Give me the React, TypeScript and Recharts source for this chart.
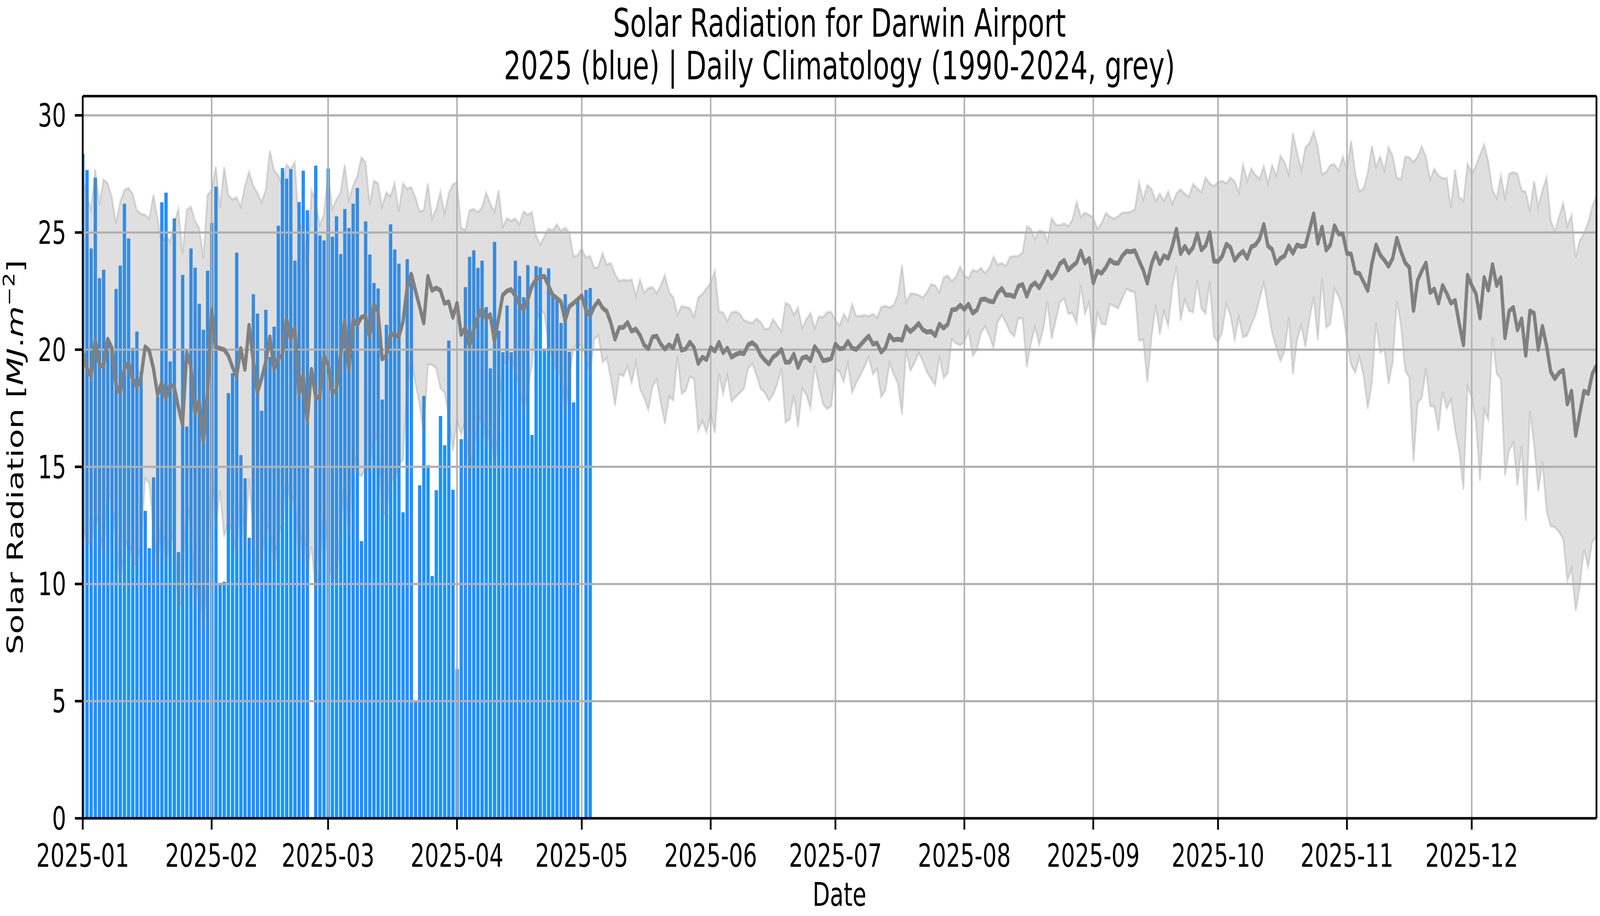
import React, { useEffect, useState } from 'react';
import { ComposedChart, Bar, Area, Line, XAxis, YAxis, CartesianGrid, ReferenceLine } from 'recharts';

// ---------------- data ----------------
const monthTicks = [0, 31, 59, 90, 120, 151, 181, 212, 243, 273, 304, 334];
const monthLabels = ['2025-01', '2025-02', '2025-03', '2025-04', '2025-05', '2025-06', '2025-07', '2025-08', '2025-09', '2025-10', '2025-11', '2025-12'];
const yTicks = [0, 5, 10, 15, 20, 25, 30];

// 2025 daily solar radiation (day 0 = 2025-01-01)
const obs2025: (number | null)[] = [
  28.35, 27.67, 24.32, 27.34, 23.05, 23.41, 20.3, 19.95, 22.59, 23.59,
  26.23, 24.74, 20.07, 20.77, 19.06, 13.12, 11.53, 14.55, 18.0, 26.29,
  26.7, 19.5, 25.6, 11.36, 23.19, 16.72, 24.32, 23.5, 21.96, 20.85,
  23.37, 25.41, 26.96, 10.05, 10.1, 18.15, 19.0, 24.14, 15.5, 14.51,
  11.97, 22.37, 21.54, 17.39, 21.7, 19.69, 20.98, 25.29, 27.75, 27.3,
  27.7, 23.8, 26.3, 27.64, 25.95, null, 27.85, 24.88, 24.66, 27.73,
  24.82, 25.69, 24.08, 26.0, 25.19, 26.23, 26.9, 11.83, 25.47, 24.06,
  22.85, 22.61, 17.87, 21.06, 25.35, 24.28, 23.67, 13.06, 23.86, 23.0,
  4.96, 14.21, 18.03, 15.07, 10.34, 14.0, 17.17, 15.92, 20.39, 14.02,
  6.37, 16.18, 22.67, 23.96, 24.24, 23.49, 23.8, 21.82, 19.2, 24.6,
  20.81, 19.89, 21.88, 19.89, 23.8, 23.15, 22.24, 23.61, 16.36, 23.57,
  23.51, 20.05, 23.47, 22.3, 22.24, 21.14, 22.37, 19.91, 17.75, 22.1,
  null, 22.55, 22.63,
];

// Daily climatology mean (1990-2024)
const climMean = [
  19.95, 19.2, 18.86, 20.4, 19.37, 19.28, 20.45, 20.07, 18.5, 18.15,
  19.18, 19.45, 18.78, 18.41, 18.8, 20.12, 19.96, 19.2, 18.08, 18.6,
  17.92, 18.5, 18.4, 17.55, 16.8, 19.88, 19.3, 17.28, 17.84, 16.08,
  18.15, 21.7, 20.12, 20.05, 20.0, 19.75, 19.26, 18.86, 20.05, 19.16,
  21.04, 19.56, 18.17, 18.76, 19.46, 20.55, 19.16, 19.65, 19.75, 21.34,
  20.45, 20.94, 18.07, 18.96, 16.97, 19.16, 17.97, 17.97, 19.75, 19.36,
  18.17, 18.27, 19.75, 21.24, 19.16, 21.3, 21.04, 21.38, 21.44, 20.55,
  21.94, 21.64, 19.6, 19.75, 20.65, 20.65, 20.55, 21.18, 22.63, 23.23,
  22.53, 21.84, 21.14, 23.13, 22.53, 22.63, 22.53, 21.98, 22.04, 21.38,
  21.98, 20.65, 20.94, 20.15, 20.85, 21.38, 21.74, 21.32, 21.5, 20.35,
  21.34, 22.33, 22.5, 22.57, 22.3, 21.94, 21.7, 22.14, 22.7, 23.0,
  23.1, 23.13, 22.73, 22.33, 22.2, 22.04, 21.24, 21.84, 21.98, 22.14,
  22.3, 21.7, 21.44, 21.84, 22.08, 21.78, 21.64, 21.14, 20.45, 20.94,
  20.95, 21.16, 20.79, 20.88, 20.62, 20.2, 20.04, 20.54, 20.58, 20.24,
  20.03, 20.21, 20.07, 20.6, 19.98, 20.03, 20.32, 20.09, 19.41, 19.68,
  19.58, 20.09, 19.94, 20.31, 19.87, 20.07, 19.68, 19.79, 19.86, 19.83,
  20.2, 20.3, 20.15, 19.77, 19.56, 19.39, 19.68, 19.81, 20.01, 19.46,
  19.47, 19.81, 19.24, 19.64, 19.7, 19.53, 20.13, 19.9, 19.53, 19.56,
  19.62, 20.24, 20.04, 20.06, 20.35, 20.07, 20.01, 20.2, 20.4, 20.58,
  20.24, 20.28, 19.9, 20.07, 20.62, 20.41, 20.45, 20.41, 20.99, 20.77,
  20.92, 21.12, 20.85, 20.75, 20.78, 20.6, 21.09, 20.92, 21.08, 21.7,
  21.72, 21.9, 21.72, 21.94, 21.56, 21.69, 22.14, 22.16, 22.07, 22.04,
  22.42, 22.61, 22.33, 22.33, 22.26, 22.71, 22.78, 22.28, 22.71, 22.85,
  22.64, 22.95, 23.33, 23.05, 23.29, 23.67, 23.81, 23.4, 23.57, 23.72,
  24.21, 23.7, 23.89, 22.85, 23.35, 23.26, 23.5, 23.83, 23.7, 23.69,
  24.01, 24.2, 24.18, 24.22, 23.8, 23.4, 22.84, 23.65, 24.12, 23.67,
  24.01, 23.9, 24.41, 25.14, 24.1, 24.41, 24.13, 24.36, 24.95, 24.26,
  24.44, 25.0, 23.78, 23.76, 23.99, 24.5, 24.36, 23.81, 24.04, 24.2,
  23.9, 24.39, 24.47, 24.73, 25.34, 24.43, 24.28, 23.68, 23.9, 24.0,
  24.43, 24.11, 24.47, 24.4, 24.43, 25.11, 25.8, 24.54, 25.23, 24.25,
  24.47, 25.29, 24.94, 24.94, 24.11, 24.08, 23.29, 23.25, 22.89, 22.53,
  23.68, 24.47, 24.04, 23.82, 23.56, 23.9, 24.76, 24.18, 23.71, 23.51,
  21.67, 22.96, 23.36, 23.7, 22.44, 22.59, 21.99, 22.74, 22.4, 21.99,
  22.1, 21.1, 20.21, 23.18, 22.74, 22.4, 21.35, 23.08, 22.54, 23.63,
  22.74, 23.08, 20.51, 21.65, 21.8, 20.85, 21.32, 19.76, 21.65, 21.55,
  20.01, 21.0, 20.16, 19.06, 18.76, 19.02, 19.12, 17.68, 18.23, 16.34,
  17.28, 18.23, 18.13, 18.97, 19.32,
];

// Climatology band, upper edge
const climHigh = [
  27.3, 26.6, 26.0, 27.7, 26.2, 27.26, 27.1, 26.5, 25.4, 26.3,
  26.8, 26.9, 26.66, 25.95, 25.8, 25.75, 25.6, 26.6, 25.6, 24.5,
  24.9, 24.6, 25.4, 26.0, 24.1, 25.95, 26.1, 25.5, 25.2, 23.9,
  26.6, 26.8, 27.8, 26.05, 27.8, 26.6, 26.4, 26.5, 26.1, 27.0,
  27.6, 27.0, 26.7, 26.3, 26.8, 28.5, 27.65, 27.45, 27.0, 27.9,
  27.7, 28.0, 25.2, 25.3, 23.3, 26.8, 26.4, 25.3, 25.8, 27.6,
  26.0, 26.4, 26.7, 27.9, 26.4, 27.0, 27.4, 28.2, 28.0, 26.2,
  27.2, 27.1, 26.1, 26.7, 26.55, 27.1, 25.9, 27.1, 26.86, 26.94,
  26.5, 25.9, 25.95, 27.1, 25.6, 26.0, 26.74, 25.8, 26.66, 27.06,
  27.14, 25.2, 25.1, 25.95, 26.0, 25.87, 26.06, 26.7, 26.23, 25.87,
  26.8, 25.25, 25.6, 25.5, 25.6, 25.35, 25.9, 25.75, 25.87, 24.88,
  24.48, 24.82, 25.17, 25.07, 25.35, 25.07, 25.2, 25.0, 23.98, 24.02,
  24.32, 23.92, 24.0, 23.49, 23.53, 24.12, 23.63, 23.69, 23.23, 22.93,
  22.98, 22.95, 22.99, 22.31, 22.99, 22.43, 22.62, 22.67, 22.41, 22.75,
  23.18, 22.45, 22.24, 21.49, 21.86, 21.81, 21.77, 21.41, 22.22, 22.37,
  22.62, 22.84, 23.36, 21.63, 21.58, 21.22, 21.58, 21.63, 21.52, 21.26,
  21.18, 21.13, 21.32, 21.18, 20.88, 20.89, 21.3, 21.03, 20.78, 22.0,
  21.9, 21.49, 21.8, 20.92, 21.29, 21.56, 20.92, 21.41, 21.39, 21.6,
  21.6, 21.26, 21.03, 21.52, 21.24, 21.94, 21.43, 21.44, 21.47, 21.43,
  21.52, 21.37, 21.81, 21.87, 21.8, 21.9, 22.34, 23.62, 22.0, 22.39,
  22.38, 22.33, 22.22, 22.45, 22.79, 22.73, 22.45, 23.08, 23.16, 22.92,
  23.12, 23.54, 23.16, 23.05, 23.4, 23.33, 23.48, 23.27, 23.48, 23.96,
  23.62, 23.69, 23.57, 23.96, 23.98, 24.0, 24.15, 25.27, 25.15, 24.72,
  25.08, 25.04, 24.63, 25.61, 25.33, 25.31, 25.39, 25.27, 25.56, 26.3,
  25.68, 25.84, 25.75, 25.65, 25.15, 25.39, 25.83, 25.67, 25.59, 25.69,
  25.85, 25.85, 25.88, 25.98, 27.13, 26.41, 27.02, 26.86, 26.35, 26.65,
  26.35, 26.76, 26.22, 26.67, 26.84, 26.65, 26.52, 27.07, 26.88, 26.73,
  27.34, 27.1, 26.97, 27.16, 27.2, 27.1, 27.34, 27.18, 26.7, 27.9,
  27.2, 27.73, 27.45, 27.29, 27.83, 27.09, 27.87, 27.41, 28.27, 28.01,
  27.48, 29.25, 28.44, 27.67, 28.63, 28.82, 29.3, 28.63, 27.48, 27.58,
  27.87, 27.91, 27.63, 28.24, 27.7, 28.92, 27.53, 26.76, 26.87, 27.55,
  28.7, 27.81, 28.24, 27.67, 28.63, 28.27, 27.34, 27.27, 28.24, 28.2,
  28.01, 28.24, 28.67, 28.22, 27.25, 27.72, 27.43, 27.31, 27.32, 26.06,
  27.69, 26.5, 26.35, 27.95, 27.5, 27.84, 28.32, 28.76, 28.02, 26.8,
  26.46, 27.43, 26.5, 27.5, 27.57, 27.5, 26.8, 26.73, 25.91, 27.2,
  26.09, 26.8, 27.35, 25.52, 25.04, 25.67, 26.26, 25.27, 25.76, 23.93,
  24.67, 24.97, 25.42, 26.12, 26.56,
];

// Climatology band, lower edge
const climLow = [
  12.6, 11.8, 11.65, 13.1, 12.4, 11.2, 13.9, 13.6, 11.8, 10.1,
  11.4, 12.0, 10.9, 10.8, 11.7, 14.5, 14.3, 12.4, 10.5, 12.9,
  10.7, 12.3, 11.7, 9.0, 9.3, 13.6, 12.3, 9.0, 10.4, 8.0,
  10.2, 15.0, 12.4, 14.0, 12.0, 12.7, 12.2, 11.2, 14.2, 11.2,
  14.5, 12.0, 9.6, 11.2, 12.1, 12.7, 10.6, 12.1, 12.6, 14.7,
  13.3, 13.9, 11.0, 12.5, 10.6, 11.6, 9.7, 10.4, 13.5, 10.8,
  10.3, 10.2, 12.3, 14.5, 11.9, 15.8, 14.7, 14.6, 14.9, 14.8,
  16.5, 16.1, 13.1, 12.9, 14.7, 14.3, 15.1, 15.3, 18.2, 19.65,
  18.56, 17.67, 16.38, 19.36, 19.36, 19.2, 18.36, 18.17, 17.27, 15.68,
  16.98, 16.38, 16.98, 14.5, 15.8, 16.7, 17.37, 15.88, 16.8, 14.9,
  16.58, 19.46, 19.4, 19.75, 19.06, 18.46, 17.37, 18.27, 19.36, 21.14,
  21.7, 21.54, 20.15, 19.65, 19.0, 19.0, 17.27, 18.76, 20.05, 20.25,
  20.15, 19.65, 18.96, 20.45, 20.6, 19.46, 19.65, 18.76, 17.6, 18.96,
  18.87, 19.28, 18.58, 19.45, 18.32, 17.94, 17.43, 18.41, 18.73, 17.73,
  16.83, 17.98, 17.85, 19.7, 18.13, 18.25, 18.85, 18.75, 16.55, 16.96,
  16.47, 17.3, 16.45, 18.96, 18.11, 18.9, 17.79, 17.98, 18.15, 18.34,
  19.19, 19.41, 18.92, 18.34, 18.17, 17.83, 18.07, 18.53, 19.19, 16.9,
  17.03, 18.07, 16.69, 18.34, 18.08, 17.49, 19.32, 18.45, 17.68, 17.47,
  17.6, 19.17, 19.06, 18.64, 19.41, 18.17, 18.58, 18.92, 19.28, 19.68,
  18.96, 19.17, 17.98, 18.25, 19.43, 18.96, 18.59, 17.23, 19.98, 19.11,
  19.43, 19.86, 19.51, 19.05, 18.76, 18.49, 19.73, 18.8, 19.0, 20.44,
  20.27, 20.19, 20.32, 20.8, 19.74, 19.98, 20.73, 20.99, 20.6, 20.08,
  21.18, 21.47, 21.15, 20.75, 20.57, 21.34, 21.34, 19.26, 20.27, 20.96,
  20.22, 20.89, 22.04, 20.46, 21.27, 22.04, 22.18, 21.53, 21.56, 21.13,
  22.74, 21.53, 22.01, 20.08, 21.56, 21.11, 21.07, 21.95, 21.86, 21.76,
  22.2, 22.59, 22.5, 22.45, 20.39, 20.43, 18.62, 20.5, 21.91, 20.64,
  21.65, 21.01, 22.61, 23.56, 21.24, 22.13, 21.67, 21.6, 22.96, 21.76,
  21.54, 22.9, 20.56, 20.32, 20.77, 21.95, 21.46, 20.43, 21.38, 20.53,
  20.61, 21.06, 21.49, 22.16, 22.86, 21.81, 20.7, 20.09, 19.52, 19.92,
  21.38, 18.95, 20.41, 21.03, 20.12, 21.31, 22.25, 20.41, 23.03, 20.95,
  21.1, 22.6, 22.27, 21.67, 20.38, 19.35, 19.02, 19.69, 18.87, 17.48,
  18.59, 21.13, 19.88, 20.02, 18.54, 19.45, 22.07, 21.03, 19.12, 18.8,
  15.22, 17.73, 17.94, 19.2, 17.6, 17.57, 16.53, 18.2, 17.49, 17.87,
  16.59, 15.67, 14.03, 18.42, 17.98, 16.93, 14.4, 17.43, 17.01, 20.51,
  18.97, 18.76, 14.63, 15.7, 16.04, 14.21, 15.89, 12.69, 17.38, 15.94,
  13.96, 15.22, 13.11, 12.47, 12.43, 12.22, 11.92, 10.13, 10.64, 8.85,
  9.9, 11.47, 10.73, 11.8, 12.02,
];

const data = climMean.map((m, i) => ({
  day: i,
  obs: i < obs2025.length ? obs2025[i] : null,
  mean: m,
  band: [climLow[i], climHigh[i]],
}));

// ---------------- layout ----------------
const FONT = "'DejaVu Sans', 'Liberation Sans', sans-serif";
const W = 5899;
const H = 2344;
const MARGIN = { top: 246, right: 13, bottom: 100, left: 0 };
const Y_AXIS_W = 305;
const X_AXIS_H = 150;
const Y_MAX = 30.82;
const DAY_MAX = 364;
const SPINE = 6.6;

const fmtMonth = (v: number) => {
  const i = monthTicks.indexOf(v);
  return i >= 0 ? monthLabels[i] : '';
};

function axes(show: boolean) {
  const tickStyle = { fill: '#000', fontSize: 82, fontFamily: FONT };
  const lineStyle = { stroke: '#000', strokeWidth: SPINE };
  return [
    <XAxis
      key="x"
      xAxisId={0}
      type="number"
      dataKey="day"
      domain={[0, DAY_MAX]}
      ticks={monthTicks}
      interval={0}
      height={X_AXIS_H}
      allowDataOverflow
      tickFormatter={fmtMonth}
      tick={show ? tickStyle : false}
      tickLine={show ? lineStyle : false}
      axisLine={show ? lineStyle : false}
      tickSize={29}
      tickMargin={37}
    />,
    <YAxis
      key="y"
      yAxisId={0}
      type="number"
      domain={[0, Y_MAX]}
      ticks={yTicks}
      interval={0}
      width={Y_AXIS_W}
      allowDataOverflow
      tick={show ? tickStyle : false}
      tickLine={show ? lineStyle : false}
      axisLine={show ? lineStyle : false}
      tickSize={29}
      tickMargin={32}
    />,
  ];
}

function Layer({ children }: { children: React.ReactNode }) {
  return (
    <div style={{ position: 'absolute', left: 0, top: 0, width: W, height: H }}>
      <ComposedChart width={W} height={H} data={data} margin={MARGIN}>
        {children}
      </ComposedChart>
    </div>
  );
}

function viewport() {
  if (typeof window === 'undefined') return { w: W, h: H };
  const w = window.innerWidth || W;
  const h = window.innerHeight || H;
  return { w, h };
}

const titleLine: React.CSSProperties = {
  position: 'absolute',
  left: 3095 - 2200,
  width: 4400,
  height: 116,
  textAlign: 'center',
  fontSize: 99,
  lineHeight: '116px',
  color: '#000',
  whiteSpace: 'nowrap',
};

export default function App() {
  const [vp, setVp] = useState(viewport());
  useEffect(() => {
    const onResize = () => setVp(viewport());
    window.addEventListener('resize', onResize);
    document.body.style.margin = '0';
    document.body.style.overflow = 'hidden';
    return () => window.removeEventListener('resize', onResize);
  }, []);
  const sx = vp.w / W;
  const sy = vp.h / H;

  return (
    <div
      style={{
        position: 'absolute',
        left: 0,
        top: 0,
        width: W,
        height: H,
        background: '#fff',
        overflow: 'hidden',
        fontFamily: FONT,
        transform: `scale(${sx}, ${sy})`,
        transformOrigin: '0 0',
      }}
    >
      {/* layer 1: 2025 bars */}
      <Layer>
        {axes(false)}
        <Bar dataKey="obs" fill="#1e90ff" barSize={12.27} isAnimationActive={false} />
      </Layer>
      {/* layer 2: climatology band */}
      <Layer>
        {axes(false)}
        <Area
          dataKey="band"
          type="linear"
          stroke="#808080"
          strokeOpacity={0.25}
          strokeWidth={6.6}
          fill="#808080"
          fillOpacity={0.25}
          dot={false}
          activeDot={false}
          isAnimationActive={false}
        />
      </Layer>
      {/* layer 3: grid, mean line, axes, spines */}
      <Layer>
        <CartesianGrid stroke="#b0b0b0" strokeWidth={5.5} />
        {axes(true)}
        <Line
          dataKey="mean"
          type="linear"
          stroke="#808080"
          strokeWidth={12.4}
          strokeLinejoin="round"
          dot={false}
          activeDot={false}
          isAnimationActive={false}
        />
        <ReferenceLine y={Y_MAX} stroke="#000" strokeWidth={SPINE} />
        <ReferenceLine x={DAY_MAX} stroke="#000" strokeWidth={SPINE} />
      </Layer>

      {/* title */}
      <div style={{ ...titleLine, top: 2 }}>Solar Radiation for Darwin Airport</div>
      <div style={{ ...titleLine, top: 111 }}>2025 (blue) | Daily Climatology (1990-2024, grey)</div>

      {/* y label */}
      <div
        style={{
          position: 'absolute',
          left: 57 - 1000,
          top: 1170 - 50,
          width: 2000,
          height: 100,
          lineHeight: '100px',
          textAlign: 'center',
          fontSize: 83,
          color: '#000',
          whiteSpace: 'nowrap',
          transform: 'rotate(-90deg)',
          transformOrigin: '50% 50%',
        }}
      >
        Solar Radiation [<span style={{ fontStyle: 'italic' }}>MJ</span>.<span style={{ fontStyle: 'italic' }}>m</span>
        <span style={{ fontSize: 58, position: 'relative', top: -32, lineHeight: 0 }}>−2</span>]
      </div>

      {/* x label */}
      <div
        style={{
          position: 'absolute',
          left: 3095 - 500,
          top: 2240,
          width: 1000,
          height: 100,
          lineHeight: '100px',
          textAlign: 'center',
          fontSize: 83,
          color: '#000',
        }}
      >
        Date
      </div>
    </div>
  );
}
